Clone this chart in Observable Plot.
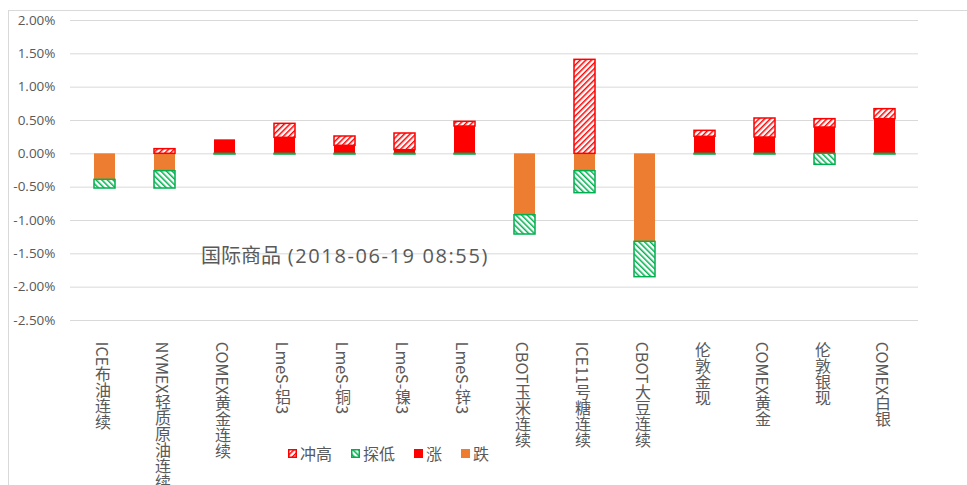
<!DOCTYPE html>
<html><head><meta charset="utf-8">
<script src="https://cdn.jsdelivr.net/npm/d3@7"></script>
<script src="https://cdn.jsdelivr.net/npm/@observablehq/plot@0.6"></script>
<style>
body{margin:0;background:#fff;}
#wrap{position:relative;width:967px;height:485px;overflow:hidden;font-family:"Noto Sans CJK SC","Noto Sans",sans-serif;background:#fff;}
#frame{position:absolute;left:8px;top:10px;width:1000px;height:520px;border-left:1px solid #d9d9d9;border-top:1px solid #d9d9d9;pointer-events:none;}
#chart{position:absolute;left:0;top:0;}
#note{position:absolute;left:201px;top:244px;font-family:"Open Sans","Noto Sans CJK SC",sans-serif;font-size:20px;line-height:24px;color:#595959;white-space:nowrap;}
#note .latin{letter-spacing:1.6px;}
#legend{position:absolute;left:288px;top:441px;display:flex;align-items:center;font-size:16px;line-height:24px;color:#595959;}
#legend .item{display:flex;align-items:center;margin-right:19px;}
#legend svg{margin-right:3px;}
</style>
</head><body>
<div id="wrap">
  <div id="frame"></div>
  <div id="chart"></div>
  <div id="note"></div>
  <div id="legend"></div>
</div>
<script>
// ---- data (percent units) ----
const categories = ["ICE布油连续","NYMEX轻质原油连续","COMEX黄金连续","LmeS-铝3","LmeS-铜3","LmeS-镍3","LmeS-锌3","CBOT玉米连续","ICE11号糖连续","CBOT大豆连续","伦敦金现","COMEX黄金","伦敦银现","COMEX白银"];
const rise = [0, 0, 0.21, 0.24, 0.12, 0.055, 0.41, 0, 0, 0, 0.255, 0.245, 0.395, 0.52];        // 涨
const high = [0, 0.07, 0, 0.21, 0.14, 0.25, 0.07, 0, 1.41, 0, 0.09, 0.285, 0.125, 0.15];       // 冲高
const fall = [-0.39, -0.26, 0, 0, 0, 0, 0, -0.92, -0.26, -1.32, 0, 0, 0, 0];                   // 跌
const low  = [-0.13, -0.26, -0.01, -0.01, -0.01, -0.01, -0.01, -0.29, -0.33, -0.53, -0.01, -0.01, -0.165, -0.01]; // 探低
const yTicks = [2, 1.5, 1, 0.5, 0, -0.5, -1, -1.5, -2, -2.5];
const seriesNames = ["冲高","探低","涨","跌"];
const noteTitle = "国际商品";
const noteTime = " (2018-06-19 08:55)";

const RED = "#FF0000", ORANGE = "#ED7D31", GREEN = "#00B050", TXT = "#595959";

// stacked segments
const riseData = categories.map((c,i)=>({cat:c, y1:0, y2:rise[i]})).filter(d=>d.y2!==0);
const highData = categories.map((c,i)=>({cat:c, y1:rise[i], y2:rise[i]+high[i]})).filter(d=>d.y2!==d.y1);
const fallData = categories.map((c,i)=>({cat:c, y1:0, y2:fall[i]})).filter(d=>d.y2!==0);
const lowData  = categories.map((c,i)=>({cat:c, y1:fall[i], y2:fall[i]+low[i]})).filter(d=>d.y2!==d.y1);

const chart = Plot.plot({
  width: 967, height: 485,
  marginTop: 20, marginBottom: 165, marginLeft: 70, marginRight: 49,
  style: {fontFamily: "'Noto Sans CJK SC', 'Noto Sans', sans-serif", background: "transparent"},
  x: {domain: categories, paddingInner: 0.65, paddingOuter: 0.325, label: null},
  y: {domain: [-2.5, 2], label: null},
  marks: [
    Plot.ruleY(yTicks, {stroke: "#d9d9d9", strokeWidth: 1}),
    Plot.axisY({ticks: yTicks, tickSize: 0, tickPadding: 15, tickFormat: d => d.toFixed(2) + "%",
      fontSize: 13.5, color: TXT, fontFamily: "'Open Sans', sans-serif"}),
    Plot.axisX({tickSize: 0, tickPadding: 10, fontSize: 16, color: TXT}),
    Plot.barY(riseData, {x: "cat", y1: "y1", y2: "y2", fill: RED}),
    Plot.barY(fallData, {x: "cat", y1: "y1", y2: "y2", fill: ORANGE}),
    Plot.barY(highData, {x: "cat", y1: "y1", y2: "y2", fill: "url(#hatchUp)", stroke: RED, strokeWidth: 1.5}),
    Plot.barY(lowData,  {x: "cat", y1: "y1", y2: "y2", fill: "url(#hatchDown)", stroke: GREEN, strokeWidth: 1.5})
  ]
});

const svg = d3.select(chart);
const defs = svg.insert("defs", ":first-child");
function hatch(id, color, angle){
  const p = defs.append("pattern").attr("id", id).attr("patternUnits", "userSpaceOnUse")
    .attr("width", 4).attr("height", 4).attr("patternTransform", `rotate(${angle})`);
  p.append("rect").attr("width", 4).attr("height", 4).attr("fill", "#fff");
  p.append("rect").attr("width", 1.5).attr("height", 4).attr("fill", color);
}
hatch("hatchUp", RED, 45);
hatch("hatchDown", GREEN, -45);

// vertical category labels (CJK upright, Latin sideways)
svg.selectAll('g[aria-label="x-axis tick label"] text')
  .attr("dy", null).attr("x", -2).attr("text-anchor", "start")
  .style("writing-mode", "vertical-rl").style("text-orientation", "mixed");

document.getElementById("chart").appendChild(chart);
const note = d3.select("#note");
note.append("span").text(noteTitle);
note.append("span").attr("class", "latin").text(noteTime);

// legend
const legendFills = {"冲高": ["url(#hatchUp)", RED], "探低": ["url(#hatchDown)", GREEN], "涨": [RED, RED], "跌": [ORANGE, ORANGE]};
const legend = d3.select("#legend");
seriesNames.forEach(name => {
  const it = legend.append("div").attr("class", "item");
  const s = it.append("svg").attr("width", 9).attr("height", 9);
  const [f, st] = legendFills[name];
  s.append("rect").attr("x", 0.75).attr("y", 0.75).attr("width", 7.5).attr("height", 7.5)
    .attr("fill", f).attr("stroke", st).attr("stroke-width", 1.5);
  it.append("span").text(name);
});
</script>
</body></html>
